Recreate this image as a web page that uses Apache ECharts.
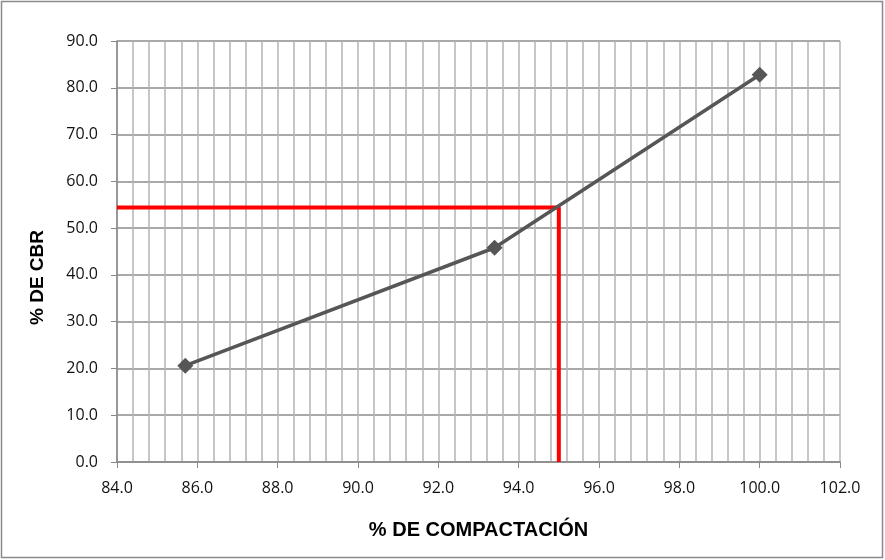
<!DOCTYPE html>
<html>
<head>
<meta charset="utf-8">
<script src="https://cdn.jsdelivr.net/npm/echarts@6/dist/echarts.min.js"></script>
<style>
  html, body { margin: 0; padding: 0; background: #fff; }
  #chart { width: 885px; height: 560px; }
</style>
</head>
<body>
<div id="chart"></div>
<script>
// puntos del ensayo (compactación %, CBR %)
const compactacion = [85.7, 93.4, 100.0]
const cbr = [20.6, 45.8, 82.8]
// lectura al 95% de compactación
const lecturaX = [84.0, 95.0, 95.0]
const lecturaY = [54.4, 54.4, 0.0]

const chart = echarts.init(document.getElementById('chart'))

const labelFont = '"Open Sans", "Noto Sans", sans-serif'
const nameFont = '"Liberation Sans", Arial, sans-serif'

chart.setOption({
  animation: false,
  graphic: [
    {
      type: 'rect',
      shape: { x: 1.5, y: 1.5, width: 881, height: 556 },
      style: { fill: 'none', stroke: '#8a8a8a', lineWidth: 1.5 },
      silent: true,
    },
  ],
  grid: { left: 117, right: 45, top: 41, bottom: 98 },
  xAxis: {
    type: 'value',
    min: 84,
    max: 102,
    interval: 2,
    name: '% DE COMPACTACIÓN',
    nameLocation: 'middle',
    nameGap: 58,
    nameTextStyle: { fontFamily: nameFont, fontWeight: 'bold', fontSize: 20, color: '#000' },
    axisLine: { show: true, onZero: false, lineStyle: { color: '#888', width: 1.5 } },
    axisTick: { show: true, length: 6, lineStyle: { color: '#888' } },
    axisLabel: {
      margin: 18,
      fontFamily: labelFont,
      fontSize: 16,
      color: '#111',
      formatter: (v) => v.toFixed(1),
    },
    splitLine: { show: true, lineStyle: { color: '#b4b4b4', width: 1.5 } },
    minorTick: { show: false, splitNumber: 5 },
    minorSplitLine: { show: true, lineStyle: { color: '#b4b4b4', width: 1.5 } },
  },
  yAxis: {
    type: 'value',
    min: 0,
    max: 90,
    interval: 10,
    name: '% DE CBR',
    nameLocation: 'middle',
    nameGap: 70,
    nameRotate: 90,
    nameTextStyle: {
      fontFamily: nameFont,
      fontWeight: 'bold',
      fontSize: 19,
      color: '#000',
      padding: [0, 52, 0, 0],
    },
    axisLine: { show: true, lineStyle: { color: '#888', width: 1.5 } },
    axisTick: { show: true, length: 6, lineStyle: { color: '#888' } },
    axisLabel: {
      margin: 19,
      fontFamily: labelFont,
      fontSize: 16,
      color: '#111',
      formatter: (v) => v.toFixed(1),
    },
    splitLine: { show: true, lineStyle: { color: '#8c8c8c', width: 1.5 } },
  },
  series: [
    {
      name: 'lectura',
      type: 'line',
      data: lecturaX.map((x, i) => [x, lecturaY[i]]),
      symbol: 'none',
      lineStyle: { color: '#ff0000', width: 4 },
      z: 3,
    },
    {
      name: 'CBR',
      type: 'line',
      data: compactacion.map((x, i) => [x, cbr[i]]),
      symbol: 'diamond',
      symbolSize: 16,
      itemStyle: { color: '#565656' },
      lineStyle: { color: '#565656', width: 3.5 },
      z: 4,
    },
  ],
})
</script>
</body>
</html>
